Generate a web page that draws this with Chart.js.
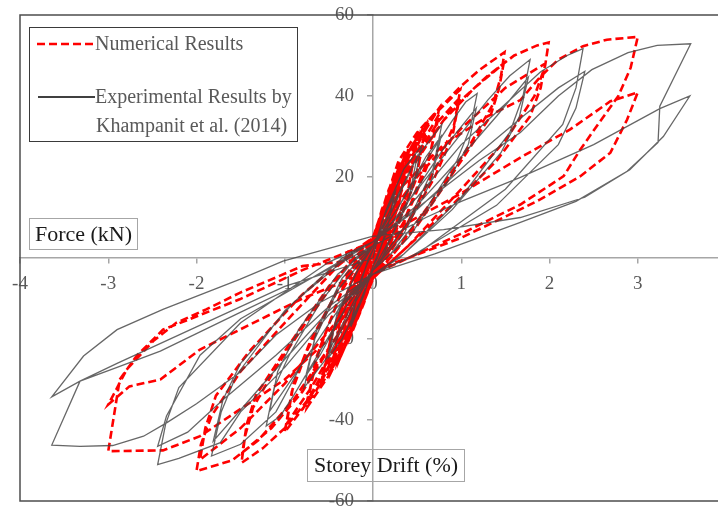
<!DOCTYPE html>
<html><head><meta charset="utf-8">
<script src="https://cdn.jsdelivr.net/npm/chart.js@4/dist/chart.umd.min.js"></script>
<style>
html,body{margin:0;padding:0;overflow:hidden;background:#fff;width:718px;height:506px}
#wrap{position:relative;width:726px;height:506px;overflow:hidden}
#c{position:absolute;left:0;top:-25px}
</style></head>
<body><div id="wrap"><canvas id="c" width="726" height="560"></canvas></div>
<script>
// ---- tick labels ----
const xTicks = [-4, -3, -2, -1, 0, 1, 2, 3];
const yTicks = [-60, -40, -20, 0, 20, 40, 60];

// ---- Experimental results (drift %, force kN), cycle groups ----
const expLoop025 = [[0,0],[0.1,9],[0.25,17],[0.18,9],[0.05,0],[0,-2],[-0.1,-9],[-0.25,-17],[-0.18,-9],[-0.05,0],[0,2],[0.12,10],[0.25,16],[0.15,6],[0,-2],[-0.12,-10],[-0.25,-16],[-0.15,-6],[0,2]];
const expLoop050 = [[0.15,12],[0.35,22],[0.55,27.6],[0.45,17],[0.2,5],[0.05,-1],[0,-3],[-0.15,-11],[-0.35,-20],[-0.5,-24.5],[-0.42,-15],[-0.2,-4],[0,3],[0.2,11],[0.5,25],[0.4,14],[0.1,0],[0,-3],[-0.2,-10],[-0.5,-23],[-0.4,-13],[-0.1,0],[0,3]];
const expLoop075 = [[0.2,12],[0.5,25],[0.78,33],[0.68,22],[0.4,9],[0.1,0],[0,-3],[-0.2,-11],[-0.5,-24],[-0.78,-32],[-0.66,-20],[-0.4,-8],[-0.1,0],[0,3],[0.3,13],[0.6,25],[0.77,30],[0.66,19],[0.35,6],[0,-3],[-0.3,-12],[-0.6,-24],[-0.76,-29],[-0.64,-18],[-0.35,-5],[0,3]];
const expLoop120 = [[0.3,13],[0.6,24],[0.9,34],[1.05,38.5],[1.18,40.6],[1.1,32],[0.95,24],[0.6,12],[0.2,1],[0,-3],[-0.3,-12],[-0.6,-23],[-0.9,-34],[-1.05,-39],[-1.21,-41.5],[-1.12,-32],[-0.95,-24],[-0.6,-11],[-0.2,0],[0,3],[0.4,14],[0.8,27],[1.17,37],[1.08,28],[0.85,19],[0.4,5],[0,-3],[-0.4,-13],[-0.8,-26],[-1.17,-37.8],[-1.08,-28],[-0.85,-18],[-0.4,-4],[0,3]];
const expLoop180 = [[0.4,14],[0.9,28],[1.3,39],[1.55,45],[1.78,49],[1.7,40],[1.55,31],[1.0,15],[0.35,1],[0,-4],[-0.4,-13],[-0.8,-26],[-1.1,-38],[-1.5,-46],[-1.83,-48.9],[-1.72,-38],[-1.55,-29],[-1.0,-13],[-0.35,0],[0,4],[0.5,13],[1.0,25],[1.4,35],[1.76,44.6],[1.66,35],[1.45,26],[0.9,12],[0.3,0],[0,-4],[-0.5,-13],[-1.0,-25],[-1.4,-35],[-1.81,-45.2],[-1.7,-35],[-1.5,-26],[-0.9,-11],[-0.3,0],[0,4]];
const expLoop245 = [[0.5,15],[1.0,28],[1.5,38],[1.9,46],[2.2,50],[2.38,51.7],[2.3,42],[2.15,33],[1.5,17],[0.5,1],[0,-4],[-0.5,-14],[-1.0,-27],[-1.5,-38],[-1.73,-45.6],[-2.2,-49.5],[-2.44,-51],[-2.35,-41],[-2.2,-32],[-1.5,-16],[-0.5,-1],[0,4],[0.5,12],[1.1,24],[1.7,35],[2.1,42],[2.4,46.1],[2.3,37],[2.1,28],[1.4,13],[0.4,0],[0,-4],[-0.5,-12],[-1.1,-24],[-1.7,-35],[-2.1,-43],[-2.44,-46.5],[-2.34,-39],[-1.96,-24],[-1.5,-15],[-0.7,-5],[0,4]];
const expLoop360 = [[0.6,14],[1.2,24],[1.67,31],[2.1,40],[2.48,46.5],[2.89,50.7],[3.22,52.5],[3.6,52.9],[3.25,37.5],[3.23,28.5],[2.88,21.4],[2.3,14],[1.67,8.8],[0.7,1],[0,-4],[-0.6,-11],[-1.1,-19],[-1.51,-28.3],[-2.0,-36],[-2.34,-40.7],[-2.6,-44],[-2.95,-46.3],[-3.32,-46.5],[-3.64,-46.2],[-3.32,-30.4],[-2.9,-27],[-2.41,-23],[-1.51,-13.5],[-0.7,-5],[0,3],[0.6,10],[1.0,14],[1.67,19.9],[2.5,28],[3.25,36.9],[3.59,40],[3.29,30],[2.91,21.8],[2.4,15],[1.67,10],[0.8,7],[0,5.4],[-1.02,-0.8],[-1.51,-5.3],[-2.38,-12.7],[-2.9,-17.7],[-3.28,-24.2],[-3.64,-34.3],[-3.32,-30.4],[-2.9,-26],[-2.0,-17],[-1.0,-7],[0,0]];

// ---- Numerical results (drift %, force kN), cycle groups ----
const numLoop005 = [[0,0],[0.05,5],[0.03,2],[0,-1],[-0.05,-5],[-0.03,-2],[0,1]];
const numLoop010 = [[0.05,5],[0.1,9],[0.07,4],[0,-2],[-0.05,-6],[-0.1,-9],[-0.07,-4],[0,2],[0.05,5],[0.1,8.5],[0.06,3],[0,-2],[-0.05,-5],[-0.1,-8.5],[-0.06,-3],[0,2]];
const numLoop015 = [[0.07,8],[0.15,13],[0.11,7],[0.02,-1],[0,-3],[-0.07,-8],[-0.15,-13],[-0.11,-7],[-0.02,1],[0,3],[0.08,8],[0.15,12.5],[0.1,6],[0,-3],[-0.08,-8],[-0.15,-12.5],[-0.1,-6],[0,3]];
const numLoop020 = [[0.1,10],[0.2,16.5],[0.15,9],[0.04,-1],[0,-3],[-0.1,-10],[-0.2,-16],[-0.15,-9],[-0.04,1],[0,3],[0.1,9.5],[0.2,16],[0.14,8],[0,-3],[-0.1,-9.5],[-0.2,-15.5],[-0.14,-8],[0,3],[0.12,11],[0.21,16],[0.16,10],[0.02,-2],[-0.12,-11],[-0.21,-16],[-0.16,-10],[-0.02,2]];
const numLoop025 = [[0.1,12],[0.25,20],[0.19,11],[0.05,-1],[0,-4],[-0.1,-11],[-0.25,-19],[-0.19,-10],[-0.05,1],[0,4],[0.12,12],[0.25,19],[0.18,10],[0,-4],[-0.12,-11],[-0.25,-18.5],[-0.18,-9],[0,4],[0.14,13],[0.26,19.5],[0.2,12],[0.03,-2],[-0.13,-12],[-0.26,-19],[-0.2,-11],[-0.03,2]];
const numLoop032 = [[0.15,15],[0.32,24],[0.25,13],[0.07,-1],[0,-4],[-0.13,-12],[-0.3,-21],[-0.23,-11],[-0.06,1],[0,4],[0.15,14],[0.32,23],[0.24,12],[0,-4],[-0.14,-12],[-0.3,-20.5],[-0.22,-10],[0,4],[0.18,16],[0.33,23.5],[0.27,15],[0.05,-2],[-0.16,-14],[-0.32,-22],[-0.25,-13],[-0.04,2]];
const numLoop040 = [[0.18,17],[0.4,27],[0.3,14],[0.08,-1],[0,-5],[-0.15,-13],[-0.38,-25],[-0.3,-13],[-0.08,1],[0,5],[0.2,16],[0.4,26],[0.29,13],[0,-5],[-0.16,-13],[-0.38,-24],[-0.28,-12],[0,5],[0.22,18],[0.41,26.5],[0.33,17],[0.06,-2],[-0.2,-16],[-0.4,-25.5],[-0.32,-15],[-0.05,2]];
const numLoop050 = [[0.22,19],[0.5,30],[0.4,17],[0.1,-1],[0,-5],[-0.18,-15],[-0.47,-28],[-0.37,-15],[-0.1,1],[0,5],[0.25,18],[0.5,29],[0.38,15],[0,-5],[-0.2,-15],[-0.47,-27],[-0.35,-14],[0,5]];
const numLoop060 = [[0.25,20],[0.45,28],[0.6,33],[0.5,21],[0.25,6],[0.06,-2],[0,-5],[-0.2,-16],[-0.4,-25],[-0.58,-31],[-0.48,-20],[-0.25,-6],[-0.06,1],[0,5],[0.3,19],[0.6,32],[0.48,19],[0.2,4],[0,-5],[-0.25,-16],[-0.58,-30],[-0.46,-18],[-0.2,-4],[0,5]];
const numLoop075 = [[0.3,22],[0.55,31],[0.75,37],[0.65,26],[0.35,9],[0.1,-1],[0,-5],[-0.25,-18],[-0.5,-29],[-0.75,-37],[-0.65,-25],[-0.35,-8],[-0.1,1],[0,5],[0.35,21],[0.75,35.5],[0.62,23],[0.3,6],[0,-5],[-0.3,-18],[-0.75,-35.5],[-0.6,-22],[-0.3,-5],[0,5]];
const numLoop100 = [[0.35,23],[0.72,36],[0.99,41.6],[0.92,33],[0.75,24],[0.4,9],[0.1,-1],[0,-5],[-0.3,-19],[-0.65,-33],[-1.0,-43],[-0.92,-33],[-0.75,-23],[-0.4,-8],[-0.1,1],[0,5],[0.4,22],[0.75,34],[0.98,39.5],[0.9,30],[0.7,20],[0.3,5],[0,-5],[-0.35,-19],[-0.7,-32],[-0.98,-41],[-0.9,-31],[-0.7,-20],[-0.3,-4],[0,5]];
const numLoop150 = [[0.29,24],[0.5,31],[0.72,36.2],[1.0,42.5],[1.21,46.5],[1.49,50.8],[1.45,44.9],[1.36,38],[1.1,28],[0.7,15],[0.3,3],[0,-5],[-0.3,-18],[-0.7,-34],[-1.0,-42],[-1.25,-47],[-1.49,-50.6],[-1.45,-44],[-1.36,-37],[-1.1,-27],[-0.7,-14],[-0.3,-2],[0,5],[0.4,21],[0.8,34],[1.15,42],[1.48,48],[1.43,42],[1.33,35],[1.0,24],[0.5,8],[0,-5],[-0.4,-19],[-0.8,-33],[-1.15,-42],[-1.48,-48],[-1.43,-41],[-1.33,-34],[-1.0,-23],[-0.5,-7],[0,5]];
const numLoop200 = [[0.4,22],[0.9,37],[1.3,45],[1.6,50],[1.86,52.5],[1.99,53.2],[1.95,47.4],[1.83,40],[1.5,29],[1.0,17],[0.4,3],[0,-5],[-0.4,-19],[-0.9,-35],[-1.3,-45],[-1.6,-50],[-2.0,-52.6],[-1.95,-46],[-1.83,-39],[-1.5,-28],[-1.0,-16],[-0.4,-2],[0,5],[0.5,20],[1.0,32],[1.5,42],[1.95,48],[1.9,42],[1.78,35],[1.4,24],[0.8,11],[0.2,-1],[0,-5],[-0.5,-18],[-1.0,-31],[-1.5,-42],[-1.96,-49.8],[-1.9,-42],[-1.78,-34],[-1.4,-23],[-0.8,-9],[-0.2,2],[0,5]];
const numLoop300 = [[0.3,17],[0.8,28],[1.3,35],[1.67,39],[1.89,44.6],[2.1,49],[2.38,52.3],[2.65,53.9],[3.0,54.6],[2.92,47],[2.78,40],[2.55,33],[2.35,26.8],[2.16,20.2],[1.67,13.2],[1.0,6],[0.4,0],[0,-4],[-0.5,-20],[-1.0,-30],[-1.55,-38],[-1.96,-44],[-2.38,-47.5],[-3.0,-47.7],[-2.93,-38.2],[-2.87,-30],[-2.68,-24.2],[-2.38,-17.7],[-1.51,-10.2],[-0.8,-3],[0,4],[0.5,10],[1.0,16],[1.67,24.8],[2.23,31.7],[2.69,38.7],[3.0,40.9],[2.88,34.2],[2.69,26],[2.35,20.2],[1.89,14.4],[1.67,12],[1.0,5],[0.4,0],[0,-3],[-0.8,-10],[-1.51,-17.7],[-1.96,-22.6],[-2.41,-30],[-2.76,-31.7],[-3.0,-36.2],[-2.79,-27.5],[-2.49,-20.5],[-2.23,-16],[-1.89,-12.7],[-1.51,-8.6],[-0.8,-2],[0,0]];

const expSeries = [].concat(expLoop025, expLoop050, expLoop075, expLoop120, expLoop180, expLoop245, expLoop360);
const numSeries = [].concat(numLoop005, numLoop010, numLoop015, numLoop020, numLoop025, numLoop032, numLoop040, numLoop050, numLoop060, numLoop075, numLoop100, numLoop150, numLoop200, numLoop300);
const toPts = arr => arr.map(p => ({x: p[0], y: p[1]}));

const SERIF = "'Liberation Serif','Times New Roman',serif";
const OFF = 25; // canvas is shifted up by this many pixels
const legendNum = ['Numerical Results'];
const legendExp = ['Experimental Results by', 'Khampanit et al. (2014)'];

const decor = {
  id: 'decor',
  afterDraw(chart) {
    const ctx = chart.ctx, a = chart.chartArea;
    ctx.save();
    // outer frame (left, top, bottom)
    ctx.strokeStyle = '#4d4d4d'; ctx.lineWidth = 1.5; ctx.setLineDash([]);
    ctx.beginPath();
    ctx.moveTo(a.right, a.top); ctx.lineTo(a.left, a.top); ctx.lineTo(a.left, a.bottom); ctx.lineTo(a.right, a.bottom);
    ctx.stroke();
    ctx.translate(0, OFF);
    // legend box
    ctx.strokeStyle = '#3a3a3a'; ctx.lineWidth = 1;
    ctx.strokeRect(29.5, 27.5, 268, 114);
    const dsNum = chart.data.datasets[1];
    ctx.strokeStyle = dsNum.borderColor; ctx.lineWidth = dsNum.borderWidth; ctx.setLineDash(dsNum.borderDash);
    ctx.beginPath(); ctx.moveTo(37, 44); ctx.lineTo(93, 44); ctx.stroke();
    ctx.setLineDash([]); ctx.strokeStyle = '#000'; ctx.lineWidth = 1.5;
    ctx.beginPath(); ctx.moveTo(38, 97); ctx.lineTo(95, 97); ctx.stroke();
    ctx.fillStyle = '#595959'; ctx.font = '20px ' + SERIF; ctx.textBaseline = 'middle'; ctx.textAlign = 'left';
    ctx.fillText(legendNum[0], 95, 45);
    ctx.fillText(legendExp[0], 95, 98);
    ctx.fillText(legendExp[1], 96, 127);
    // axis titles in boxes
    ctx.strokeStyle = '#a6a6a6'; ctx.lineWidth = 1;
    ctx.strokeRect(29.5, 218.5, 108, 31);
    ctx.strokeRect(307.5, 449.5, 157, 32);
    ctx.fillStyle = '#1a1a1a'; ctx.font = '22px ' + SERIF; ctx.textAlign = 'center';
    ctx.fillText('Force (kN)', 83.5, 235);
    ctx.fillText('Storey Drift (%)', 386, 466);
    ctx.restore();
  }
};

new Chart(document.getElementById('c'), {
  type: 'scatter',
  data: {
    datasets: [
      { label: 'Experimental Results by Khampanit et al. (2014)', data: toPts(expSeries), showLine: true,
        borderColor: 'rgba(70,70,70,0.82)', borderWidth: 1.3, pointRadius: 0, pointHoverRadius: 0, fill: false, tension: 0 },
      { label: 'Numerical Results', data: toPts(numSeries), showLine: true,
        borderColor: '#ff0000', borderWidth: 2.6, borderDash: [8, 4], pointRadius: 0, pointHoverRadius: 0, fill: false, tension: 0 }
    ]
  },
  options: {
    responsive: false, animation: false, events: [],
    layout: { padding: { left: 20, top: 40, right: 0, bottom: 34 } },
    plugins: { legend: { display: false }, tooltip: { enabled: false } },
    scales: {
      x: {
        type: 'linear', min: -4, max: 4, position: { y: 0 },
        afterBuildTicks: s => { s.ticks = xTicks.map(v => ({ value: v })); },
        grid: { display: true, drawOnChartArea: false, drawTicks: true, tickLength: 5, color: '#a6a6a6', lineWidth: 1.5 },
        border: { display: true, color: '#a6a6a6', width: 1.5 },
        ticks: { font: { family: SERIF, size: 19 }, color: '#595959', padding: 10, maxRotation: 0, autoSkip: false }
      },
      y: {
        type: 'linear', min: -60, max: 60, position: { x: 0 },
        afterBuildTicks: s => { s.ticks = yTicks.map(v => ({ value: v })); },
        grid: { display: true, drawOnChartArea: false, drawTicks: true, tickLength: 5, color: '#a6a6a6', lineWidth: 1.5 },
        border: { display: true, color: '#a6a6a6', width: 1.5 },
        ticks: { font: { family: SERIF, size: 19 }, color: '#595959', autoSkip: false,
                 callback: v => String(v) + '    ' }
      }
    }
  },
  plugins: [decor]
});
</script>
</body></html>
